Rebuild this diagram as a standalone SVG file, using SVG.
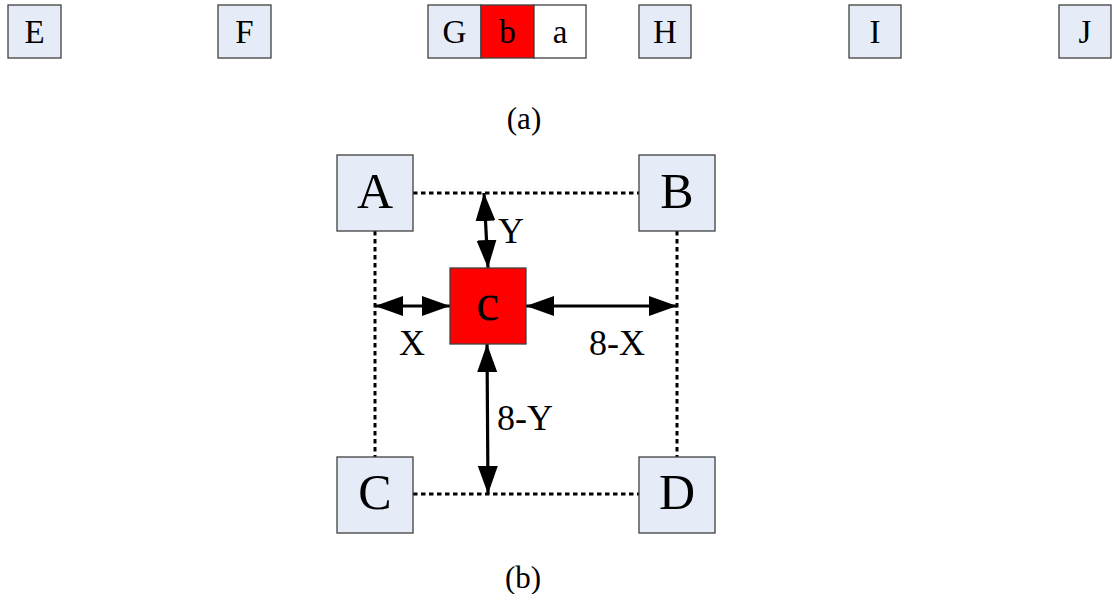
<svg xmlns="http://www.w3.org/2000/svg" width="1112" height="594" viewBox="0 0 1112 594">
<style>
.n{fill:#E6ECF7;stroke:#404040;stroke-width:1.3}
.r{fill:#FF0000;stroke:#404040;stroke-width:1.3}
.w{fill:#FFFFFF;stroke:#404040;stroke-width:1.3}
text{font-family:"Liberation Serif","Times New Roman",serif;fill:#000;text-anchor:middle}
.t{font-size:33px}
.big{font-size:50px}
.c{font-size:52px}
.lbl{font-size:36px}
.cap{font-size:31px}
.dot{stroke:#000;stroke-width:3;stroke-dasharray:4.5 3.5;fill:none}
.arr{stroke:#000;stroke-width:3.2;fill:none;marker-start:url(#ah);marker-end:url(#ah)}
</style>
<defs>
<marker id="ah" markerUnits="userSpaceOnUse" markerWidth="30" markerHeight="22" refX="28" refY="10" orient="auto-start-reverse">
<path d="M0,0 L28,10 L0,20 Z" fill="#000"/>
</marker>
</defs>
<rect width="1112" height="594" fill="#fff"/>
<g id="node-E"><rect class="n" x="8" y="5" width="53" height="53"/><text class="t" x="34.5" y="43">E</text></g>
<g id="node-F"><rect class="n" x="218" y="5" width="53" height="53"/><text class="t" x="244.5" y="43">F</text></g>
<g id="node-G"><rect class="n" x="428" y="5" width="53" height="53"/><text class="t" x="454.5" y="43">G</text></g>
<g id="node-b"><rect class="r" x="481" y="5" width="53" height="53"/><text class="t" x="507.5" y="43">b</text></g>
<g id="node-a"><rect class="w" x="534" y="5" width="52" height="53"/><text class="t" x="560" y="43">a</text></g>
<g id="node-H"><rect class="n" x="639" y="5" width="52" height="53"/><text class="t" x="665" y="43">H</text></g>
<g id="node-I"><rect class="n" x="849" y="5" width="52" height="53"/><text class="t" x="875" y="43">I</text></g>
<g id="node-J"><rect class="n" x="1059" y="5" width="52" height="53"/><text class="t" x="1085" y="43">J</text></g>
<text class="cap" x="524" y="129">(a)</text>
<g id="connectors">
<line class="dot" x1="413" y1="193" x2="639" y2="193"/>
<line class="dot" x1="375" y1="231" x2="375" y2="457"/>
<line class="dot" x1="677" y1="231" x2="677" y2="457"/>
<line class="dot" x1="413" y1="494" x2="639" y2="494"/>
<line class="arr" x1="484" y1="193" x2="488" y2="268"/>
<line class="arr" x1="375" y1="306" x2="450" y2="306"/>
<line class="arr" x1="526" y1="306" x2="677" y2="306"/>
<line class="arr" x1="487" y1="344" x2="488" y2="494"/>
<text class="lbl" x="511" y="243">Y</text>
<text class="lbl" x="412" y="355">X</text>
<text class="lbl" x="617" y="355">8-X</text>
<text class="lbl" x="525" y="430">8-Y</text>
</g>
<g id="node-A"><rect class="n" x="337" y="155" width="76" height="76"/><text class="big" x="375" y="208">A</text></g>
<g id="node-B"><rect class="n" x="639" y="155" width="76" height="76"/><text class="big" x="677" y="208">B</text></g>
<g id="node-C"><rect class="n" x="337" y="457" width="76" height="76"/><text class="big" x="375" y="509">C</text></g>
<g id="node-D"><rect class="n" x="639" y="457" width="76" height="76"/><text class="big" x="677" y="509">D</text></g>
<g id="node-c"><rect class="r" x="450" y="268" width="76" height="76"/><text class="c" x="488" y="320">c</text></g>
<text class="cap" x="523" y="588">(b)</text>
</svg>
